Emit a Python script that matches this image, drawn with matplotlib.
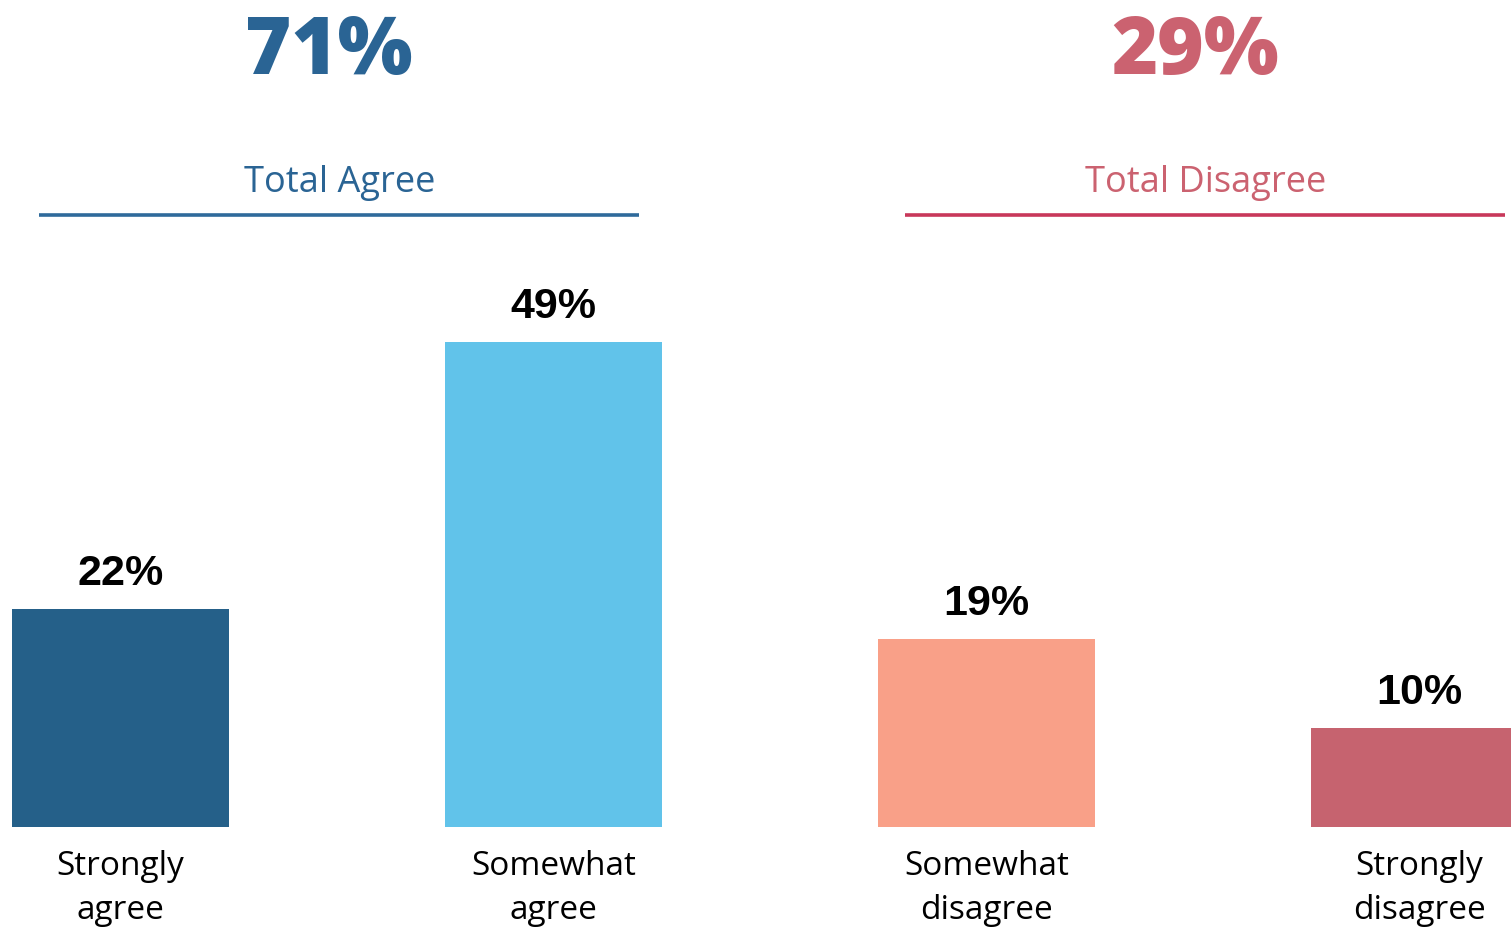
import matplotlib
matplotlib.use("Agg")
import matplotlib.pyplot as plt
from matplotlib.transforms import blended_transform_factory

categories = ["Strongly\nagree", "Somewhat\nagree", "Somewhat\ndisagree", "Strongly\ndisagree"]
values = [22, 49, 19, 10]
bar_colors = ["#256089", "#61C3EA", "#F9A088", "#C6636F"]
group_titles = ["Total Agree", "Total Disagree"]
group_totals = ["71%", "29%"]
group_text_colors = ["#2A6494", "#CB6270"]
group_line_colors = ["#2F6A9B", "#C8385A"]

W, H, DPI = 1511, 928, 100
PX = 433.0  # pixels per category unit
fig = plt.figure(figsize=(W / DPI, H / DPI), dpi=DPI)
ax = fig.add_axes([0, 100 / H, 1, 828 / H])

x = list(range(len(categories)))
ax.bar(x, values, width=0.5, color=bar_colors)
ax.set_xlim(-120.5 / PX, (W - 120.5) / PX)
ax.set_ylim(0, 828 / 9.9)

for xi, v in zip(x, values):
    ax.annotate(f"{v}%", (xi, v), xytext=(0, 18), textcoords="offset points",
                ha="center", va="baseline", fontsize=31, fontweight="bold",
                family="Liberation Sans", color="black")

ax.set_xticks(x)
ax.set_xticklabels(categories, fontsize=24, family="Open Sans", linespacing=1.45)
ax.tick_params(axis="x", length=0, pad=16)
ax.set_yticks([])
for s in ax.spines.values():
    s.set_visible(False)

tr = blended_transform_factory(ax.transData, fig.transFigure)
groups = [(0, 1), (2, 3)]
for (a, b), title, total, tc, lc in zip(groups, group_titles, group_totals,
                                        group_text_colors, group_line_colors):
    mid = (a + b) / 2
    ax.text(mid - 8 / PX, 1 - 74 / H, total, transform=tr, ha="center",
            va="baseline", fontsize=57, fontweight="heavy", family="Open Sans",
            color=tc, clip_on=False)
    ax.text(mid + 3 / PX, 1 - 192 / H, title, transform=tr, ha="center", va="baseline",
            fontsize=26, family="Open Sans", color=tc, clip_on=False)
    ax.plot([mid + 2 / PX - 300 / PX, mid + 2 / PX + 300 / PX], [1 - 216 / H] * 2,
            transform=tr, color=lc, lw=2.6, clip_on=False, solid_capstyle="butt")

fig.savefig("out.png", dpi=DPI)
